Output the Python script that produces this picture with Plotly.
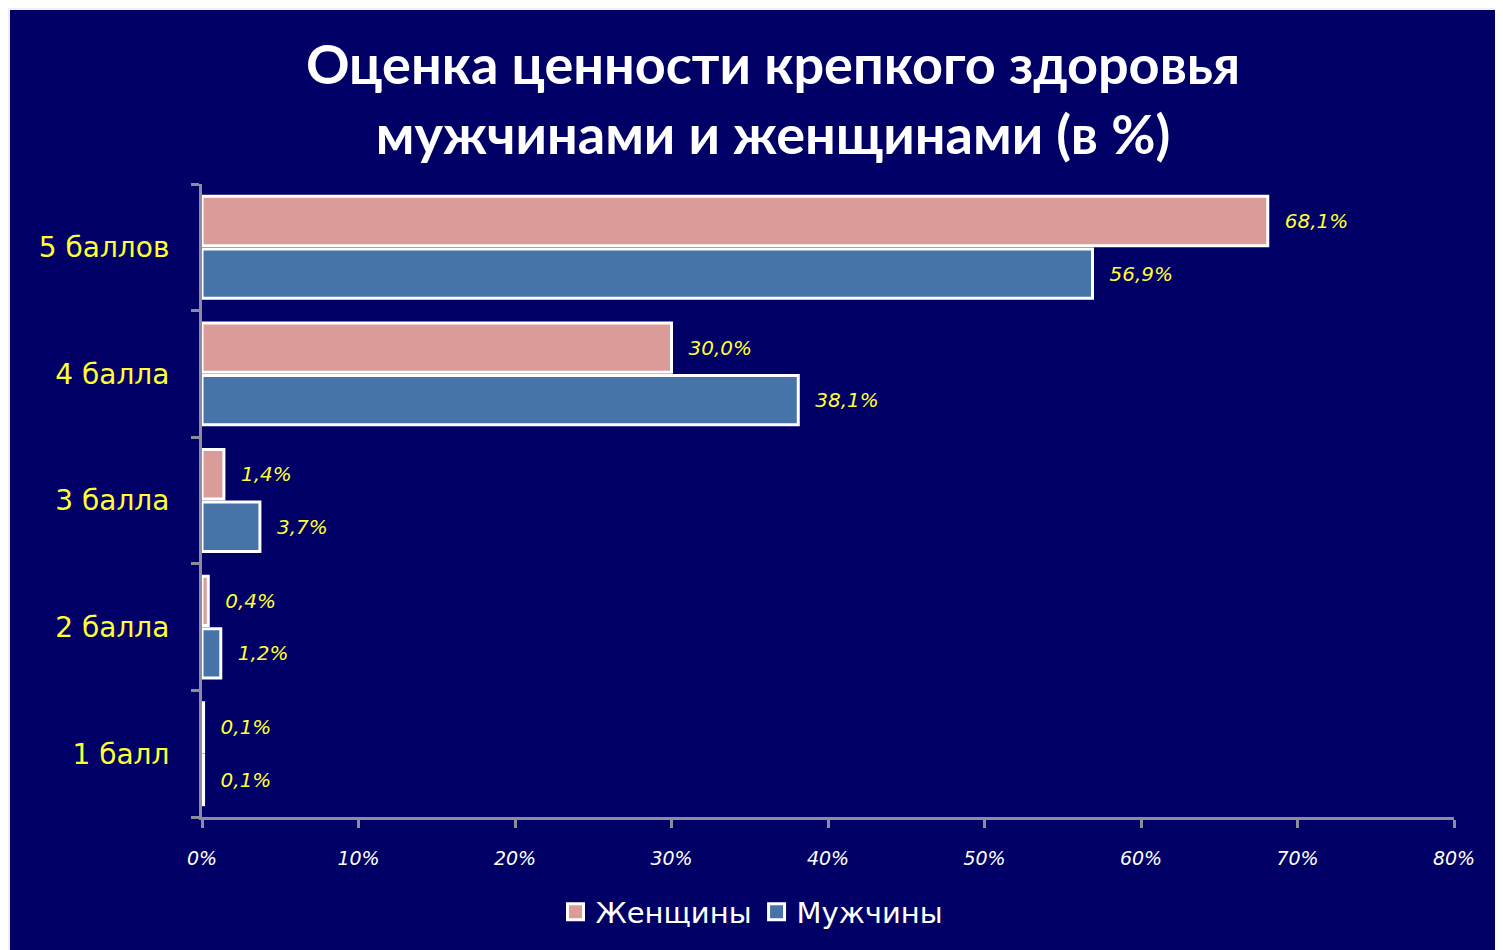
import plotly.graph_objects as go

# categories bottom -> top (plotly draws first category at the bottom)
categories = ["1 балл", "2 балла", "3 балла", "4 балла", "5 баллов"]
women = [0.1, 0.4, 1.4, 30.0, 68.1]
men = [0.1, 1.2, 3.7, 38.1, 56.9]
x_ticks = [0, 10, 20, 30, 40, 50, 60, 70, 80]
x_tick_labels = [f"{v}%" for v in x_ticks]

NAVY = "#000066"
PINK = "#DA9C99"
BLUE = "#4674A8"
YELLOW = "#FFFF33"
AXIS = "#8C8C9C"

# page is drawn with an 8px body offset, so lay out in a slightly smaller figure
W, H = 1495, 942
L, R, T, B = 194, 49, 176, 133
PW, PH = W - L - R, H - T - B

label_font = dict(family="DejaVu Sans", size=20, color=YELLOW, style="italic")


def fmt(vals):
    return ["\u2002\u2009" + f"{v:.1f}%".replace(".", ",") for v in vals]


fig = go.Figure()

# men first so that it sits below the pink bar inside each group
fig.add_trace(go.Bar(
    y=categories, x=men, orientation="h", name="Мужчины", showlegend=False,
    marker=dict(color=BLUE, line=dict(color="white", width=3)),
    text=fmt(men), textposition="outside", cliponaxis=False, textfont=label_font,
))
fig.add_trace(go.Bar(
    y=categories, x=women, orientation="h", name="Женщины", showlegend=False,
    marker=dict(color=PINK, line=dict(color="white", width=3)),
    text=fmt(women), textposition="outside", cliponaxis=False, textfont=label_font,
))

# legend entries with bigger square swatches
for name, color in [("Женщины", PINK), ("Мужчины", BLUE)]:
    fig.add_trace(go.Scatter(
        x=[None], y=[None], mode="markers", name=name,
        marker=dict(symbol="square", size=19, color=color, line=dict(color="white", width=3)),
    ))

# navy panel with a light frame on the top/left edges
fig.add_shape(type="rect", xref="paper", yref="paper",
              x0=(2 - L) / PW, x1=(W + 10 - L) / PW,
              y0=(T + PH - H - 10) / PH, y1=(T + PH - 2) / PH,
              fillcolor=NAVY, line=dict(width=0), layer="below")

fig.update_layout(
    width=W, height=H,
    paper_bgcolor="#EEEEFA", plot_bgcolor=NAVY,
    margin=dict(l=L, r=R, t=T, b=B),
    barmode="group", bargap=0.17, bargroupgap=0.06,
    title=dict(
        text="<b>Оценка ценности крепкого здоровья<br>мужчинами и женщинами (в %)</b>",
        x=765 / W, xref="container", xanchor="center",
        y=1 - 76 / H, yref="container", yanchor="middle",
        font=dict(family="Lato", size=54, color="white"),
    ),
    legend=dict(orientation="h", x=(744 - L) / PW, xanchor="center",
                y=(T + PH - 904) / PH, yanchor="middle",
                font=dict(family="DejaVu Sans", size=29, color="white"),
                bgcolor="rgba(0,0,0,0)", itemwidth=30),
    font=dict(family="DejaVu Sans"),
)

fig.update_xaxes(
    range=[0, 80], tickvals=x_ticks, ticktext=x_tick_labels,
    showgrid=False, zeroline=False,
    showline=True, linecolor=AXIS, linewidth=3,
    ticks="outside", ticklen=8, tickwidth=3, tickcolor=AXIS,
    tickfont=dict(family="DejaVu Sans", size=19, color="white", style="italic"),
    ticklabelstandoff=14,
)
fig.update_yaxes(
    categoryorder="array", categoryarray=categories,
    showgrid=False, showline=True, linecolor=AXIS, linewidth=3,
    ticks="outside", ticklen=8, tickwidth=3, tickcolor=AXIS,
    tickson="boundaries",
    tickfont=dict(family="DejaVu Sans", size=28, color=YELLOW),
    ticklabelstandoff=24,
)

fig.write_html("out.html")
